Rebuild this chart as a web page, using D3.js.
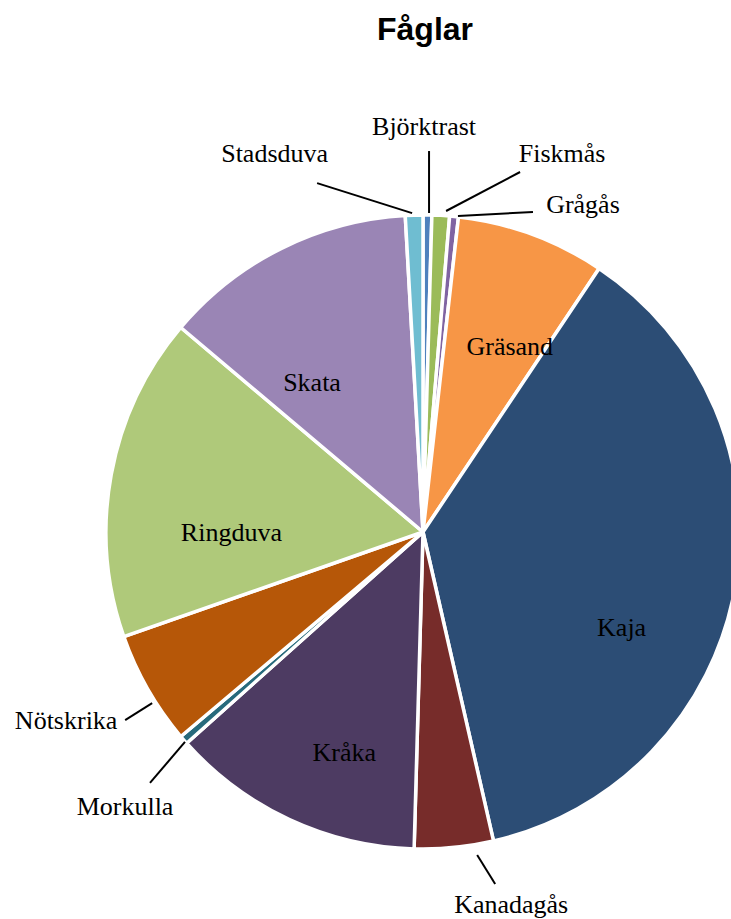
<!DOCTYPE html>
<html>
<head>
<meta charset="utf-8">
<style>
	body { margin: 0; background: #fff; }
	svg { display: block; }
	.title { font-family: "Liberation Sans", Arial, sans-serif; font-weight: bold; font-size: 32px; }
	.lbl { font-family: "Liberation Serif", "Times New Roman", serif; font-size: 26px; fill: #000; }
	.leader { stroke: #000; stroke-width: 2px; fill: none; }
</style>
</head>
<body>
<div id="chart"></div>
<script src="https://cdn.jsdelivr.net/npm/d3@7"></script>
<script>
	// data
	const birds = ["Björktrast", "Fiskmås", "Grågås", "Gräsand", "Kaja", "Kanadagås",
		"Kråka", "Morkulla", "Nötskrika", "Ringduva", "Skata", "Stadsduva"];
	const counts = [1, 2, 1, 17, 83, 9, 29, 1, 13, 37, 29, 2];
	const colors = ["#4F81BD", "#9BBB59", "#8064A2", "#F79646", "#2C4D75", "#772C2A",
		"#4D3B62", "#276A7C", "#B65708", "#AFC97A", "#9A85B5", "#6FBDD1"];
	const insideLabels = ["Gräsand", "Kaja", "Kråka", "Ringduva", "Skata"];

	const width = 731, height = 919;
	const cx = 423, cy = 532, radius = 317;

	// hand tuned label placement (excel "best fit" look)
	const insideNudge = {
		"Gräsand": [16, 7], "Kaja": [-4, 58], "Kråka": [8, 33], "Ringduva": [11, 37], "Skata": [-19, 34]
	};
	// small slices: leader start, leader end and text baseline, as offsets from the slice's edge point
	const outside = {
		"Björktrast": { start: [1.6, -2], end: [1.6, -64], text: [-3.4, -80] },
		"Fiskmås": { start: [5.3, -4.5], end: [79.3, -43.5], text: [121.3, -53.5] },
		"Grågås": { start: [3.9, -0.5], end: [78.9, -4.5], text: [128.9, -3.5] },
		"Stadsduva": { start: [-2, -2], end: [-97, -32], text: [-139.5, -53] },
		"Nötskrika": { start: [4.4, 14], end: [-22.6, 31], text: [-81.6, 40] },
		"Morkulla": { start: [1.3, 2], end: [-33.7, 43], text: [-58.7, 75] },
		"Kanadagås": { start: [23.1, 7.5], end: [41.1, 36.5], text: [57.1, 65.5] }
	};

	const svg = d3.select("#chart").append("svg")
		.attr("width", width)
		.attr("height", height);

	svg.append("text")
		.attr("class", "title")
		.attr("x", 425)
		.attr("y", 40)
		.attr("text-anchor", "middle")
		.text("Fåglar");

	const data = birds.map((b, i) => ({ name: b, value: counts[i], color: colors[i] }));

	const pie = d3.pie().sort(null).value(d => d.value);
	const arc = d3.arc().innerRadius(0).outerRadius(radius);
	const labelArc = d3.arc().innerRadius(radius * 0.65).outerRadius(radius * 0.65);

	const g = svg.append("g").attr("transform", `translate(${cx}, ${cy})`);
	const arcs = pie(data);

	g.selectAll("path.slice")
		.data(arcs)
		.join("path")
		.attr("class", "slice")
		.attr("d", arc)
		.attr("fill", d => d.data.color)
		.attr("stroke", "#fff")
		.attr("stroke-width", 3.5)
		.attr("stroke-linejoin", "round");

	// labels inside the big slices
	g.selectAll("text.inside")
		.data(arcs.filter(d => insideLabels.includes(d.data.name)))
		.join("text")
		.attr("class", "lbl inside")
		.attr("text-anchor", "middle")
		.attr("x", d => labelArc.centroid(d)[0] + insideNudge[d.data.name][0])
		.attr("y", d => labelArc.centroid(d)[1] + insideNudge[d.data.name][1] + 9)
		.text(d => d.data.name);

	// leader lines and labels for the small slices
	const outerArcs = arcs.filter(d => outside[d.data.name]);
	const edge = d => {
		const a = (d.startAngle + d.endAngle) / 2;
		return [Math.sin(a) * radius, -Math.cos(a) * radius];
	};
	const at = (d, key, i) => edge(d)[i] + outside[d.data.name][key][i];

	g.selectAll("line.leader")
		.data(outerArcs)
		.join("line")
		.attr("class", "leader")
		.attr("x1", d => at(d, "start", 0))
		.attr("y1", d => at(d, "start", 1))
		.attr("x2", d => at(d, "end", 0))
		.attr("y2", d => at(d, "end", 1));

	g.selectAll("text.outside")
		.data(outerArcs)
		.join("text")
		.attr("class", "lbl outside")
		.attr("text-anchor", "middle")
		.attr("x", d => at(d, "text", 0))
		.attr("y", d => at(d, "text", 1))
		.text(d => d.data.name);
</script>
</body>
</html>
